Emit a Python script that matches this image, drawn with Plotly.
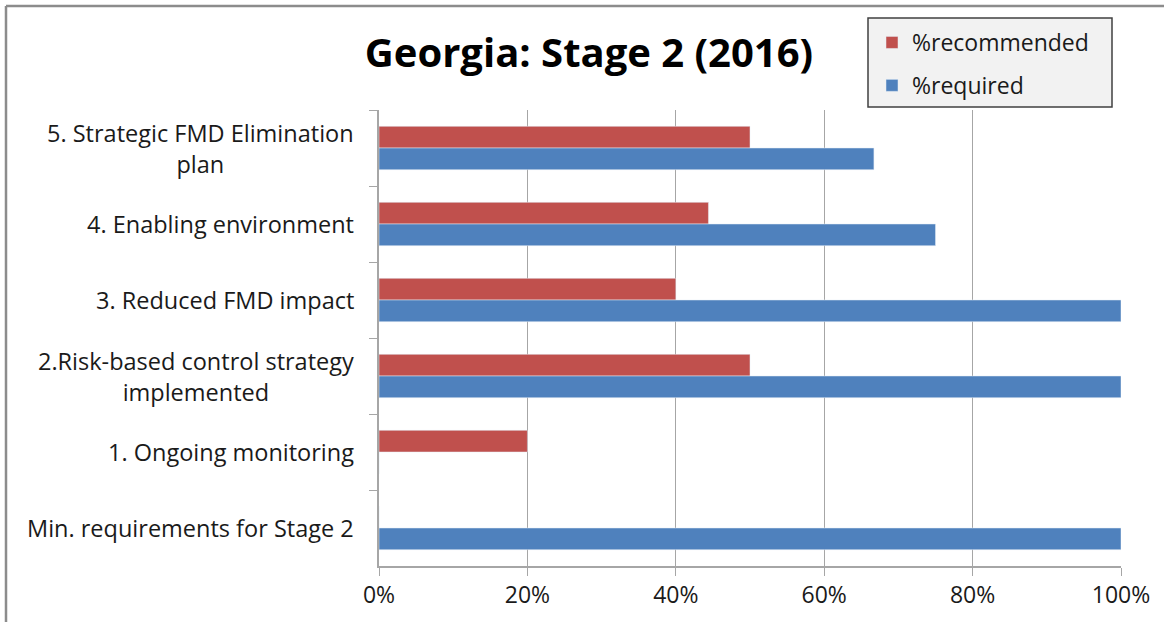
import plotly.graph_objects as go

# Categories, top to bottom
categories = [
    "5. Strategic FMD Elimination<br>plan",
    "4. Enabling environment",
    "3. Reduced FMD impact",
    "2.Risk-based control strategy<br>implemented",
    "1. Ongoing monitoring",
    "Min. requirements for Stage 2",
]
pct_recommended = [0.50, 0.444, 0.40, 0.50, 0.20, 0.0]
pct_required = [0.667, 0.75, 1.0, 1.0, 0.0, 1.0]

RED = "#C0504D"
BLUE = "#4F81BD"
FONT = "Open Sans, sans-serif"
TXT = "#1a1a1a"

W, H = 1164, 622
L, R, T, B = 379, 43, 110, 56
pw, ph = W - L - R, H - T - B


def px_x(px):
    return (px - L) / pw


def px_y(py):
    return (H - B - py) / ph


fig = go.Figure()
fig.add_trace(go.Bar(
    y=categories, x=pct_recommended, orientation="h", name="%recommended",
    marker=dict(color=RED), legendgroup="a",
))
fig.add_trace(go.Bar(
    y=categories, x=pct_required, orientation="h", name="%required",
    marker=dict(color=BLUE), legendgroup="b",
))

# Category labels, right edge next to the axis, lines centred
for c in categories:
    fig.add_annotation(
        x=px_x(356), xref="paper", y=c, yref="y", text=c,
        xanchor="right", yanchor="middle", align="center", showarrow=False,
        font=dict(family=FONT, size=23.5, color=TXT),
    )

# Outer frame (left and top edges)
frame = dict(color="#8c8c8c", width=2.5)
fig.add_shape(type="line", xref="paper", yref="paper",
              x0=px_x(6), x1=px_x(6), y0=px_y(640), y1=px_y(6), line=frame)
fig.add_shape(type="line", xref="paper", yref="paper",
              x0=px_x(6), x1=px_x(1200), y0=px_y(6), y1=px_y(6), line=frame)

# Legend panel
fig.add_shape(type="rect", xref="paper", yref="paper",
              x0=px_x(868), x1=px_x(1112), y0=px_y(107), y1=px_y(18),
              fillcolor="#f2f2f2", line=dict(color="#404040", width=1.5),
              layer="above")

fig.update_layout(
    width=W, height=H,
    margin=dict(l=L, r=R, t=T, b=B),
    paper_bgcolor="white", plot_bgcolor="white",
    barmode="group", bargap=0.43, bargroupgap=0,
    title=dict(
        text="<b>Georgia: Stage 2 (2016)</b>",
        x=px_x(589), xref="paper", xanchor="center",
        y=1 - 53 / H, yref="container", yanchor="middle",
        font=dict(family=FONT, size=40, color="black"),
    ),
    legend=dict(
        x=px_x(872), y=px_y(21), xanchor="left", yanchor="top",
        bgcolor="rgba(0,0,0,0)", borderwidth=0,
        font=dict(family=FONT, size=23, color=TXT),
        traceorder="grouped", tracegroupgap=10, itemwidth=30,
    ),
    xaxis=dict(
        range=[0, 1], tickvals=[0, 0.2, 0.4, 0.6, 0.8, 1.0],
        tickformat=".0%", showgrid=True, gridcolor="#a6a6a6", gridwidth=1,
        showline=True, linecolor="#a6a6a6", linewidth=1.5,
        ticks="outside", ticklen=8, tickcolor="#a6a6a6",
        tickfont=dict(family=FONT, size=23, color=TXT),
        zeroline=False, fixedrange=True,
    ),
    yaxis=dict(
        autorange="reversed", showticklabels=False,
        tickson="boundaries", ticks="outside", ticklen=8, tickcolor="#a6a6a6",
        showgrid=False, showline=True, linecolor="#a6a6a6", linewidth=1.5,
        fixedrange=True,
    ),
)

fig.write_html("out.html")
